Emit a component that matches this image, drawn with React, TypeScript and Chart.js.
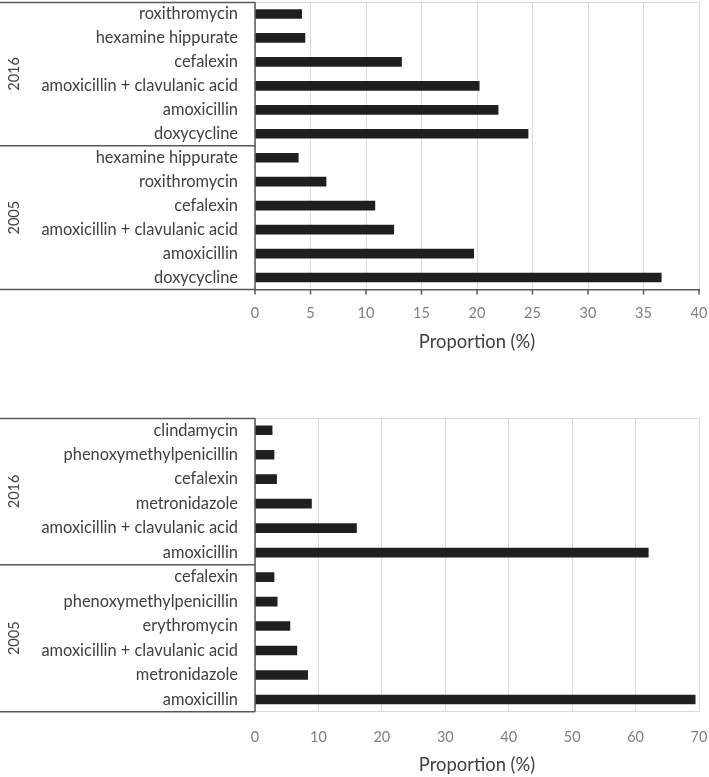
import React, { useEffect, useRef } from "react";
import { Chart, registerables } from "chart.js";

Chart.register(...registerables);

// ---- Data: chart 1 (top) ----
const topYears = ["2016", "2005"];
const topGroupSizes = [6, 6];
const topLabels = [
  "roxithromycin",
  "hexamine hippurate",
  "cefalexin",
  "amoxicillin + clavulanic acid",
  "amoxicillin",
  "doxycycline",
  "hexamine hippurate",
  "roxithromycin",
  "cefalexin",
  "amoxicillin + clavulanic acid",
  "amoxicillin",
  "doxycycline",
];
const topValues = [4.2, 4.5, 13.2, 20.2, 21.9, 24.6, 3.9, 6.4, 10.8, 12.5, 19.7, 36.6];
const topMax = 40;
const topStep = 5;

// ---- Data: chart 2 (bottom) ----
const bottomYears = ["2016", "2005"];
const bottomGroupSizes = [6, 6];
const bottomLabels = [
  "clindamycin",
  "phenoxymethylpenicillin",
  "cefalexin",
  "metronidazole",
  "amoxicillin + clavulanic acid",
  "amoxicillin",
  "cefalexin",
  "phenoxymethylpenicillin",
  "erythromycin",
  "amoxicillin + clavulanic acid",
  "metronidazole",
  "amoxicillin",
];
const bottomValues = [2.7, 3.0, 3.4, 8.9, 16.0, 62.0, 3.0, 3.5, 5.5, 6.6, 8.3, 69.4];
const bottomMax = 70;
const bottomStep = 10;

const axisTitle = "Proportion (%)";

const FONT = "Lato, 'Open Sans', sans-serif";
const DARK = "#595959";
const GRID = "#d9d9d9";

function makeGroupPlugin(years: string[], sizes: number[], darkAxis: boolean) {
  return {
    id: "groupBoxes",
    afterDraw(chart: any) {
      const { ctx, chartArea } = chart;
      const y = chart.scales.y;
      const x = chart.scales.x;
      const half = (y.getPixelForValue(1) - y.getPixelForValue(0)) / 2;
      ctx.save();
      // light top border of plot area
      ctx.strokeStyle = GRID;
      ctx.lineWidth = 1;
      ctx.beginPath();
      ctx.moveTo(chartArea.left, chartArea.top + 0.5);
      ctx.lineTo(chartArea.right, chartArea.top + 0.5);
      ctx.stroke();
      // tick marks
      ctx.strokeStyle = DARK;
      ctx.lineWidth = 1.5;
      if (darkAxis) {
        x.ticks.forEach((t: any) => {
          const px = x.getPixelForValue(t.value);
          ctx.beginPath();
          ctx.moveTo(px, chartArea.bottom);
          ctx.lineTo(px, chartArea.bottom + 5);
          ctx.stroke();
        });
      }
      // dark box lines
      const lines: number[] = [chartArea.top + 0.5];
      let idx = 0;
      const centers: number[] = [];
      sizes.forEach((s, i) => {
        const start = idx;
        idx += s;
        const endY =
          i === sizes.length - 1 ? chartArea.bottom : y.getPixelForValue(idx - 1) + half;
        lines.push(endY);
        const startY = i === 0 ? chartArea.top : y.getPixelForValue(start) - half;
        centers.push((startY + endY) / 2);
      });
      lines.forEach((ly) => {
        ctx.beginPath();
        ctx.moveTo(0, ly);
        ctx.lineTo(chartArea.left, ly);
        ctx.stroke();
      });
      ctx.beginPath();
      ctx.moveTo(chartArea.left, chartArea.top);
      ctx.lineTo(chartArea.left, chartArea.bottom);
      ctx.stroke();
      // year labels
      ctx.fillStyle = "#404040";
      ctx.font = `14.5px ${FONT}`;
      ctx.textAlign = "center";
      ctx.textBaseline = "middle";
      years.forEach((yr, i) => {
        ctx.save();
        ctx.translate(14, centers[i]);
        ctx.rotate(-Math.PI / 2);
        ctx.fillText(yr, 0, 0);
        ctx.restore();
      });
      ctx.restore();
    },
  };
}

function makeConfig(
  labels: string[],
  values: number[],
  max: number,
  step: number,
  years: string[],
  sizes: number[],
  opts: { axisHeight: number; darkAxis: boolean; tickPad: number; titlePad: number }
): any {
  return {
    type: "bar",
    data: {
      labels,
      datasets: [
        {
          data: values,
          backgroundColor: "#1f1f1f",
          borderWidth: 0,
          barThickness: 9,
        },
      ],
    },
    options: {
      indexAxis: "y",
      animation: false,
      responsive: false,
      maintainAspectRatio: false,
      layout: { padding: { top: 2, right: 10, left: 0, bottom: 0 } },
      plugins: { legend: { display: false }, tooltip: { enabled: false } },
      scales: {
        x: {
          min: 0,
          max,
          ticks: {
            stepSize: step,
            color: "#7f7f7f",
            font: { family: FONT, size: 14.5 },
            padding: opts.tickPad,
          },
          grid: {
            color: GRID,
            lineWidth: 1,
            drawTicks: false,
          },
          border: {
            display: true,
            color: opts.darkAxis ? DARK : GRID,
            width: opts.darkAxis ? 1.5 : 1,
          },
          title: {
            display: true,
            text: axisTitle,
            color: "#404040",
            font: { family: FONT, size: 18.4 },
            padding: { top: 0, bottom: opts.titlePad },
          },
          afterFit: (scale: any) => {
            scale.height = opts.axisHeight;
            scale.paddingLeft = 0;
            scale.paddingRight = 0;
          },
        },
        y: {
          ticks: {
            color: "#404040",
            font: { family: FONT, size: 16.4 },
            padding: 17,
            autoSkip: false,
          },
          grid: { display: false, drawTicks: false },
          border: { display: false },
          afterFit: (scale: any) => {
            scale.width = 255;
            scale.paddingTop = 0;
            scale.paddingBottom = 0;
          },
        },
      },
    },
    plugins: [makeGroupPlugin(years, sizes, opts.darkAxis)],
  };
}

function ChartCanvas({ config, width, height, top }: any) {
  const ref = useRef<HTMLCanvasElement | null>(null);
  useEffect(() => {
    if (!ref.current) return;
    const chart = new Chart(ref.current, config);
    return () => chart.destroy();
  }, []);
  return (
    <canvas
      ref={ref}
      width={width}
      height={height}
      style={{ position: "absolute", left: 0, top, width, height }}
    />
  );
}

export default function App() {
  const cfg1 = makeConfig(topLabels, topValues, topMax, topStep, topYears, topGroupSizes, {
    axisHeight: 70.5,
    darkAxis: true,
    tickPad: 15,
    titlePad: 7,
  });
  const cfg2 = makeConfig(bottomLabels, bottomValues, bottomMax, bottomStep, bottomYears, bottomGroupSizes, {
    axisHeight: 65.3,
    darkAxis: false,
    tickPad: 17,
    titlePad: 1,
  });
  return (
    <div style={{ position: "absolute", left: 0, top: 0, width: 709, height: 777, background: "#fff" }}>
      <ChartCanvas config={cfg1} width={709} height={360} top={0} />
      <ChartCanvas config={cfg2} width={709} height={361} top={416} />
    </div>
  );
}
